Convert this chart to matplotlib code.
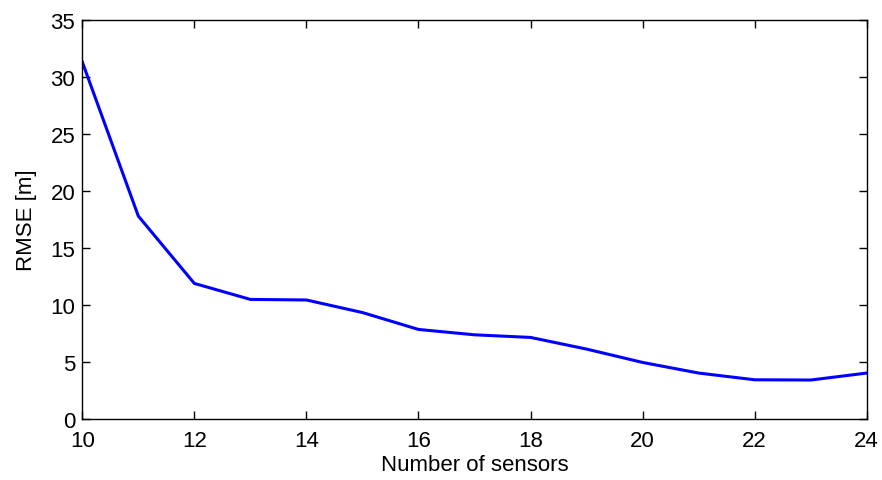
import matplotlib.pyplot as plt

# Number of sensors vs RMSE
sensors = [10, 11, 12, 13, 14, 15, 16, 17, 18, 19, 20, 21, 22, 23, 24]
rmse = [31.3, 17.8, 11.9, 10.5, 10.45, 9.35, 7.87, 7.4, 7.17, 6.15, 4.98, 4.05, 3.46, 3.44, 4.05]

plt.rcParams['font.family'] = ['Liberation Sans', 'DejaVu Sans']

fig = plt.figure(figsize=(8.82, 4.81), dpi=100)
ax = fig.add_axes([0.0933, 0.1262, 0.8894, 0.8308])

ax.plot(sensors, rmse, color='#0000ff', linewidth=2.2)
ax.set_xlim(10, 24)
ax.set_ylim(0, 35)
ax.set_xticks(range(10, 25, 2))
ax.set_yticks(range(0, 36, 5))
ax.tick_params(direction='in', top=True, right=True, labelsize=16, length=6, width=1)
ax.tick_params(axis='x', pad=8)
ax.tick_params(axis='y', pad=5)
ax.set_xlabel("Number of sensors", fontsize=16, labelpad=2)
ax.set_ylabel("RMSE [m]", fontsize=16, labelpad=10)
for s in ax.spines.values():
    s.set_linewidth(1)

fig.savefig("out.png", dpi=100)
